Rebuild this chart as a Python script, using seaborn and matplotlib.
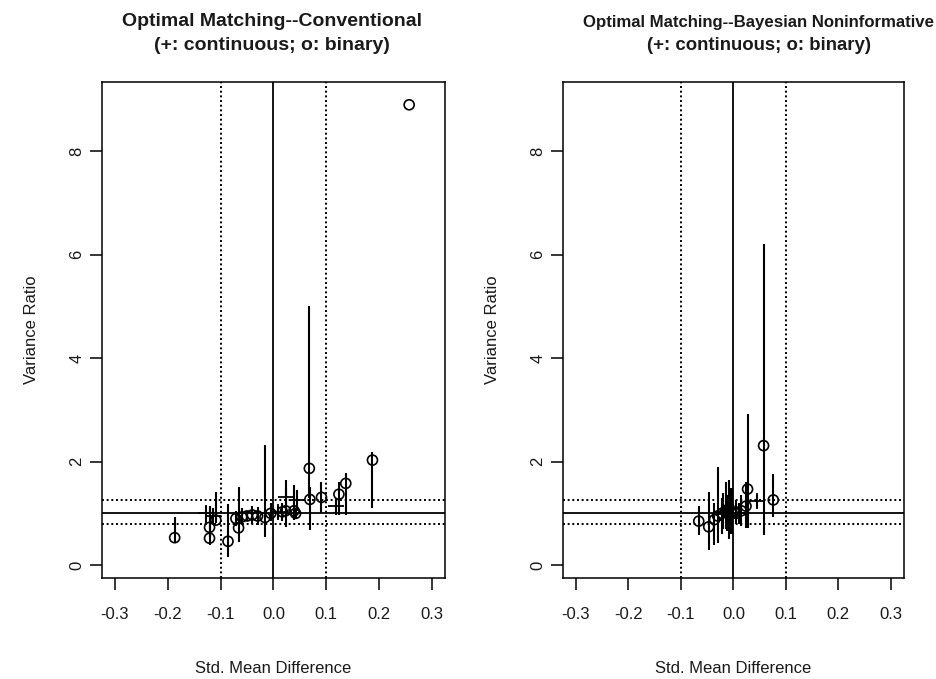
import matplotlib
matplotlib.use("Agg")
import matplotlib.pyplot as plt
import seaborn as sns
import pandas as pd
import numpy as np

# ---------------- data ----------------
# Left panel: Conventional
conv_bin_x = [-0.187, -0.121, -0.121, -0.109, -0.086, -0.066, -0.071, -0.060, -0.050, -0.040,
              -0.030, -0.016, -0.005, 0.017, 0.023, 0.039, 0.042, 0.069, 0.068, 0.091,
              0.124, 0.137, 0.1875, 0.257]
conv_bin_y = [0.53, 0.52, 0.73, 0.87, 0.46, 0.72, 0.90, 0.93, 0.95, 0.97,
              0.95, 0.92, 1.00, 1.03, 1.05, 1.05, 1.00, 1.27, 1.87, 1.31,
              1.37, 1.58, 2.03, 8.90]
conv_bin_lo = [0.45, 0.39, 0.55, 0.81, 0.15, 0.45, 0.75, 0.80, 0.85, 0.80,
               0.78, 0.55, 0.85, 0.85, 0.74, 0.87, 0.90, 0.68, 1.30, 1.00,
               0.97, 0.97, 1.10, 8.90]
conv_bin_hi = [0.93, 1.14, 1.10, 1.42, 1.19, 1.51, 1.05, 1.10, 1.05, 1.15,
               1.12, 2.32, 1.20, 1.20, 1.64, 1.55, 1.10, 1.51, 5.00, 1.61,
               1.60, 1.79, 2.19, 8.90]
conv_con_x = [-0.128, -0.115, 0.008, 0.023, 0.045, 0.118]
conv_con_y = [1.00, 0.95, 1.02, 1.32, 1.26, 1.14]
conv_con_lo = [0.78, 0.80, 0.90, 1.10, 1.05, 0.97]
conv_con_hi = [1.14, 1.10, 1.15, 1.50, 1.45, 1.30]

# Right panel: Bayesian Noninformative
bayes_bin_x = [-0.066, -0.047, -0.036, -0.030, -0.022, -0.015, -0.008, -0.003, 0.005, 0.015,
               0.024, 0.027, 0.0575, 0.076]
bayes_bin_y = [0.85, 0.74, 0.88, 0.95, 1.00, 1.05, 1.10, 1.02, 1.00, 1.05,
               1.14, 1.47, 2.31, 1.26]
bayes_bin_lo = [0.58, 0.29, 0.39, 0.42, 0.60, 0.70, 0.50, 0.60, 0.80, 0.75,
                0.71, 0.71, 0.58, 0.93]
bayes_bin_hi = [1.14, 1.42, 1.20, 1.89, 1.30, 1.60, 1.64, 1.50, 1.25, 1.35,
                1.60, 2.93, 6.20, 1.77]
bayes_con_x = [-0.020, -0.012, -0.005, 0.010, 0.045]
bayes_con_y = [1.02, 0.98, 0.95, 1.00, 1.24]
bayes_con_lo = [0.70, 0.65, 0.60, 0.80, 1.10]
bayes_con_hi = [1.40, 1.35, 1.50, 1.20, 1.35]

title_main = ["Optimal Matching--Conventional", "Optimal Matching--Bayesian Noninformative"]
title_sub = "(+: continuous; o: binary)"
x_ticks = [-0.3, -0.2, -0.1, 0.0, 0.1, 0.2, 0.3]
x_tick_labels = ["-0.3", "-0.2", "-0.1", "0.0", "0.1", "0.2", "0.3"]
y_ticks = [0, 2, 4, 6, 8]
y_tick_labels = ["0", "2", "4", "6", "8"]
x_label = "Std. Mean Difference"
y_label = "Variance Ratio"
ref_v_solid = 0.0
ref_v_dot = [-0.1, 0.1]
ref_h_solid = 1.0
ref_h_dot = [0.8, 1.25]

# ---------------- style ----------------
sns.set_theme(style="white")
plt.rcParams['font.family'] = ['Liberation Sans', 'DejaVu Sans']
TXT = "#1a1a1a"
W, H = 937, 679

fig = plt.figure(figsize=(9.37, 6.79), dpi=100)
axL = fig.add_axes([0.1089, 0.1487, 0.3661, 0.7305])
axR = fig.add_axes([0.6009, 0.1487, 0.3639, 0.7305])

panels = [
    (axL, conv_bin_x, conv_bin_y, conv_bin_lo, conv_bin_hi,
     conv_con_x, conv_con_y, conv_con_lo, conv_con_hi),
    (axR, bayes_bin_x, bayes_bin_y, bayes_bin_lo, bayes_bin_hi,
     bayes_con_x, bayes_con_y, bayes_con_lo, bayes_con_hi),
]

for ax, bx, by, blo, bhi, cx, cy, clo, chi in panels:
    dfb = pd.DataFrame({"x": bx, "y": by, "lo": blo, "hi": bhi})
    dfc = pd.DataFrame({"x": cx, "y": cy, "lo": clo, "hi": chi})
    # reference lines
    ax.axvline(ref_v_solid, color="black", lw=1.3, zorder=1)
    ax.axhline(ref_h_solid, color="black", lw=1.3, zorder=1)
    for v in ref_v_dot:
        ax.axvline(v, color="black", lw=1.4, ls=(0, (1, 1.4)), zorder=1)
    for h in ref_h_dot:
        ax.axhline(h, color="black", lw=1.4, ls=(0, (1, 1.4)), zorder=1)
    # intervals
    ax.vlines(dfb["x"], dfb["lo"], dfb["hi"], color="black", lw=1.5, zorder=2)
    ax.vlines(dfc["x"], dfc["lo"], dfc["hi"], color="black", lw=1.5, zorder=2)
    # markers
    sns.scatterplot(data=dfb, x="x", y="y", ax=ax, marker="o", s=52,
                    facecolor="none", edgecolor="black", linewidth=1.2, zorder=3)
    sns.scatterplot(data=dfc, x="x", y="y", ax=ax, marker="+", s=120,
                    color="black", linewidth=1.3, zorder=3)

    ax.set_xlim(-0.3245, 0.325)
    ax.set_ylim(-0.25, 9.34)
    ax.set_xticks(x_ticks)
    ax.set_xticklabels(x_tick_labels)
    ax.set_yticks(y_ticks)
    ax.set_yticklabels(y_tick_labels, rotation=90, va="center")
    ax.tick_params(axis="both", direction="out", length=8.6, width=1.1,
                   colors="black", labelcolor=TXT, labelsize=12)
    ax.tick_params(axis="x", pad=12)
    ax.tick_params(axis="y", pad=4)
    ax.xaxis.set_ticks_position("bottom")
    ax.yaxis.set_ticks_position("left")
    for sp in ax.spines.values():
        sp.set_visible(True)
        sp.set_color("black")
        sp.set_linewidth(1.1)
    ax.set_xlabel(x_label, fontsize=12, color=TXT, labelpad=28)
    ax.set_ylabel(y_label, fontsize=12, color=TXT, labelpad=22)
    ax.grid(False)

# titles (two lines each)
fig.text(272 / W, 1 - 22 / H, title_main[0], ha="center", va="center",
         fontsize=14, fontweight="bold", color=TXT)
fig.text(272 / W, 1 - 46 / H, title_sub, ha="center", va="center",
         fontsize=14, fontweight="bold", color=TXT)
fig.text(759 / W, 1 - 22 / H, title_main[1], ha="center", va="center",
         fontsize=12.1, fontweight="bold", color=TXT)
fig.text(759 / W, 1 - 46 / H, title_sub, ha="center", va="center",
         fontsize=13.4, fontweight="bold", color=TXT)

fig.savefig("out.png", dpi=100, facecolor="white")
